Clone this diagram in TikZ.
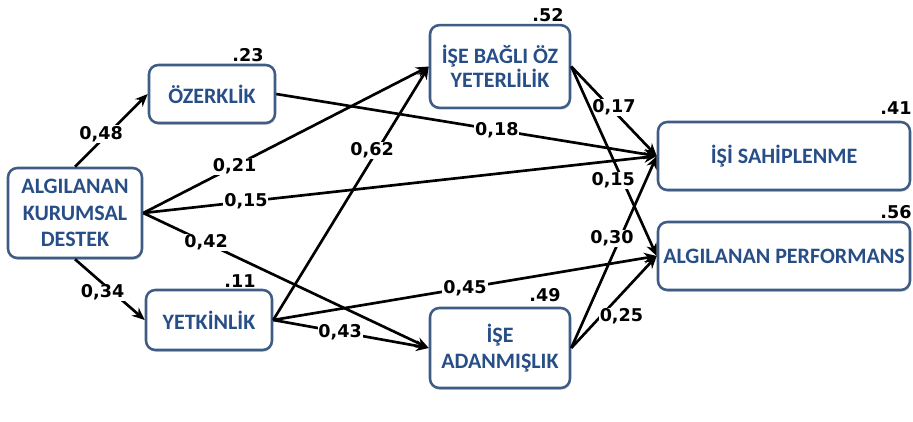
\documentclass[tikz,border=0pt]{standalone}
\usepackage{fontspec}
\newfontfamily\boxfont{Carlito}
\newfontfamily\labfont{DejaVu Sans}
\usetikzlibrary{arrows.meta,shadows}
\definecolor{boxline}{RGB}{62,92,132}
\definecolor{boxtext}{RGB}{40,78,135}
\begin{document}
\begin{tikzpicture}[x=0.75pt,y=-0.75pt,
  varbox/.style={draw=boxline, line width=1.9pt, rounded corners=7pt, fill=white,
    align=center, text=boxtext, inner sep=0pt,
    drop shadow={shadow xshift=0.6pt, shadow yshift=-1.4pt, opacity=0.3, fill=gray}},
  pathln/.style={draw=black, line width=2pt, -{Stealth[length=9.5pt,width=8pt]}},
  coef/.style={fill=white, inner sep=0.6pt, font=\labfont\bfseries\fontsize{13.2}{14}\selectfont},
  rsq/.style={font=\labfont\bfseries\fontsize{13.2}{14}\selectfont}]
\useasboundingbox (0,0) rectangle (913,421);

% boxes
\node[varbox, minimum width=100.5pt, minimum height=67.5pt,
  font=\boxfont\bfseries\fontsize{16.5}{20}\selectfont] (alg) at (75,213) {ALGILANAN\\KURUMSAL\\DESTEK};
\node[varbox, minimum width=94.5pt, minimum height=43.5pt,
  font=\boxfont\bfseries\fontsize{16.5}{18}\selectfont] (oz) at (212,94) {ÖZERKLİK};
\node[varbox, minimum width=105pt, minimum height=62pt,
  font=\boxfont\bfseries\fontsize{16.5}{16}\selectfont] (oyet) at (500,66.5) {İŞE BAĞLI ÖZ\\YETERLİLİK};
\node[varbox, minimum width=189pt, minimum height=51pt,
  font=\boxfont\bfseries\fontsize{16.5}{18}\selectfont] (sah) at (784,156) {İŞİ SAHİPLENME};
\node[varbox, minimum width=189pt, minimum height=51pt,
  font=\boxfont\bfseries\fontsize{16.5}{18}\selectfont] (perf) at (784,256) {ALGILANAN PERFORMANS};
\node[varbox, minimum width=94.5pt, minimum height=45pt,
  font=\boxfont\bfseries\fontsize{16.5}{18}\selectfont] (yet) at (209,320) {YETKİNLİK};
\node[varbox, minimum width=105pt, minimum height=60pt,
  font=\boxfont\bfseries\fontsize{16.5}{19.5}\selectfont] (adan) at (500,348) {İŞE\\ADANMIŞLIK};

% R-squared values
\node[rsq] (r2oz) at (248,55) {.23};
\node[rsq] (r2oyet) at (548,15) {.52};
\node[rsq] (r2sah) at (896,108) {.41};
\node[rsq] (r2perf) at (896,212) {.56};
\node[rsq] (r2yet) at (240,281) {.11};
\node[rsq] (r2adan) at (545,295) {.49};

% paths
\draw[pathln] (alg.north) -- node[coef, pos=0.45, xshift=-5pt] (c1) {0,48} (oz.west);
\draw[pathln] (alg.south) -- node[coef, pos=0.55, xshift=-8pt] (c2) {0,34} (yet.west);
\draw[pathln] (alg.east) -- node[coef, pos=0.32] (c3) {0,21} (oyet.west);
\draw[pathln] (alg.east) -- node[coef, pos=0.2] (c4) {0,15} (sah.west);
\draw[pathln] (alg.east) -- node[coef, pos=0.22] (c5) {0,42} (adan.west);
\draw[pathln] (oz.east) -- node[coef, pos=0.58] (c6) {0,18} (sah.west);
\draw[pathln] (yet.east) -- node[coef, pos=0.67, xshift=-4pt] (c7) {0,62} (oyet.west);
\draw[pathln] (yet.east) -- node[coef, pos=0.5] (c8) {0,45} (perf.west);
\draw[pathln] (yet.east) -- node[coef, pos=0.43] (c9) {0,43} (adan.west);
\draw[pathln] (oyet.east) -- node[coef, pos=0.5, xshift=0pt, yshift=3pt] (c10) {0,17} (sah.west);
\draw[pathln] (oyet.east) -- node[coef, pos=0.6, xshift=-7pt] (c11) {0,15} (perf.west);
\draw[pathln] (adan.east) -- node[coef, pos=0.57, xshift=-6pt] (c12) {0,30} (sah.west);
\draw[pathln] (adan.east) -- node[coef, pos=0.4, xshift=12pt, yshift=-4pt] (c13) {0,25} (perf.west);
\end{tikzpicture}
\end{document}
